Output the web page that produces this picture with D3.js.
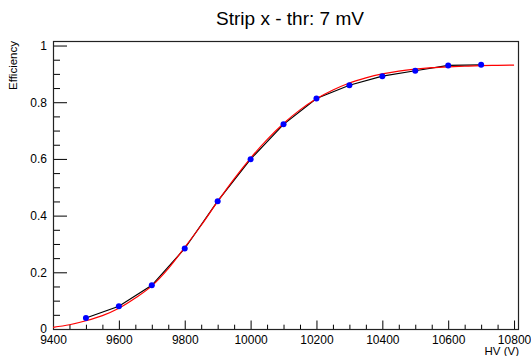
<!DOCTYPE html>
<html>
<head>
<meta charset="utf-8">
<script src="https://cdn.jsdelivr.net/npm/d3@7"></script>
<style>
  body { margin: 0; background: #fff; }
  svg { display: block; font-family: "Liberation Sans", Arial, Helvetica, sans-serif; }
</style>
</head>
<body>
<svg id="chart" width="531" height="356"></svg>
<script>
// measured points
const hv = [9500, 9600, 9700, 9800, 9900, 10000, 10100, 10200, 10300, 10400, 10500, 10600, 10700];
const eff = [0.039, 0.080, 0.154, 0.284, 0.451, 0.599, 0.722, 0.813, 0.860, 0.892, 0.911, 0.930, 0.932];

// fit curve, every 50 V
const fitHv = [9400, 9450, 9500, 9550, 9600, 9650, 9700, 9750, 9800, 9850, 9900, 9950, 10000,
  10050, 10100, 10150, 10200, 10250, 10300, 10350, 10400, 10450, 10500, 10550, 10600, 10650,
  10700, 10750, 10800];
const fitEff = [0.006, 0.015, 0.029, 0.047, 0.073, 0.109, 0.152, 0.213, 0.288, 0.366, 0.450, 0.530, 0.603,
  0.668, 0.725, 0.773, 0.812, 0.843, 0.868, 0.886, 0.900, 0.910, 0.917, 0.922, 0.925, 0.927,
  0.929, 0.930, 0.931];

const xTicks = [9400, 9600, 9800, 10000, 10200, 10400, 10600, 10800];
const yTicks = [0, 0.2, 0.4, 0.6, 0.8, 1];

const margin = {left: 53, right: 12, top: 41, bottom: 27};
const W = 531, H = 356;

const svg = d3.select('#chart');

const x = d3.scaleLinear().domain([9400, 10815]).range([margin.left, W - margin.right]);
const y = d3.scaleLinear().domain([0, 1.016]).range([H - margin.bottom, margin.top]);

const fw = W - margin.right - margin.left;
const fh = H - margin.bottom - margin.top;

// x axis: major + minor ticks pointing inside
const xAxis = d3.axisBottom(x).tickValues(xTicks).tickSizeInner(-8.5).tickSizeOuter(0)
  .tickPadding(11).tickFormat(d3.format('d'));
const xMinor = d3.axisBottom(x).tickValues(d3.range(9400, 10815, 50).filter(v => v % 200 !== 0))
  .tickSize(-4.3).tickFormat('');

const gx = svg.append('g').attr('transform', `translate(0,${H - margin.bottom})`).call(xAxis);
svg.append('g').attr('transform', `translate(0,${H - margin.bottom})`).call(xMinor)
  .call(g => g.select('.domain').remove());

const yAxis = d3.axisLeft(y).tickValues(yTicks).tickSizeInner(-14).tickSizeOuter(0)
  .tickPadding(6).tickFormat(d => d === 0 || d === 1 ? d3.format('d')(d) : d3.format('.1f')(d));
const yMinor = d3.axisLeft(y).tickValues(d3.range(0.05, 1.01, 0.05).filter(v => Math.abs(v * 5 - Math.round(v * 5)) > 1e-6))
  .tickSize(-7).tickFormat('');

const gy = svg.append('g').attr('transform', `translate(${margin.left},0)`).call(yAxis);
svg.append('g').attr('transform', `translate(${margin.left},0)`).call(yMinor)
  .call(g => g.select('.domain').remove());

svg.selectAll('.tick line').attr('stroke', '#000');
svg.selectAll('.domain').remove();
gx.selectAll('.tick text').attr('font-size', 12).attr('fill', '#000').attr('dy', '0.3em');
gy.selectAll('.tick text').attr('font-size', 12).attr('fill', '#000');

// frame
svg.append('rect')
  .attr('x', margin.left + 0.5).attr('y', margin.top + 0.5)
  .attr('width', fw - 1).attr('height', fh)
  .attr('fill', 'none').attr('stroke', '#222').attr('stroke-width', 1.2);

// data polyline
const line = d3.line().x(i => x(hv[i])).y(i => y(eff[i]));
svg.append('path')
  .attr('d', line(d3.range(hv.length)))
  .attr('fill', 'none').attr('stroke', '#000').attr('stroke-width', 1.2);

// fit
const fitLine = d3.line().x(i => x(fitHv[i])).y(i => y(fitEff[i])).curve(d3.curveMonotoneX);
svg.append('path')
  .attr('d', fitLine(d3.range(fitHv.length)))
  .attr('fill', 'none').attr('stroke', '#f00').attr('stroke-width', 1.2);

// markers
svg.append('g').selectAll('circle')
  .data(d3.range(hv.length))
  .join('circle')
  .attr('cx', i => x(hv[i]))
  .attr('cy', i => y(eff[i]))
  .attr('r', 3)
  .attr('fill', '#00f');

// titles
svg.append('text')
  .attr('x', 290).attr('y', 25)
  .attr('text-anchor', 'middle')
  .attr('font-size', 19)
  .text('Strip x - thr: 7 mV');

svg.append('text')
  .attr('x', W - margin.right).attr('y', 355)
  .attr('text-anchor', 'end')
  .attr('font-size', 11.5)
  .text('HV (V)');

svg.append('text')
  .attr('transform', `translate(17,${margin.top}) rotate(-90)`)
  .attr('text-anchor', 'end')
  .attr('font-size', 11.5)
  .text('Efficiency');
</script>
</body>
</html>
